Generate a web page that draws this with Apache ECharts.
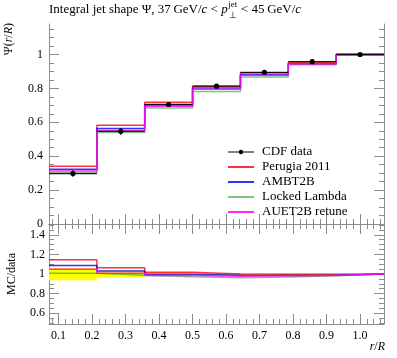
<!DOCTYPE html>
<html><head><meta charset="utf-8">
<script src="https://cdn.jsdelivr.net/npm/echarts@6/dist/echarts.min.js"></script>
<style>html,body{margin:0;padding:0;background:#fff}#c{width:397px;height:358px}</style>
</head><body><div id="c"></div>
<script>
// ---- data ----
const binEdges = [0.0714, 0.2143, 0.3571, 0.5, 0.6429, 0.7857, 0.9286, 1.0714];
const binCenters = [0.1429, 0.2857, 0.4286, 0.5714, 0.7143, 0.8571, 1.0];
const cdfData = [0.298, 0.547, 0.705, 0.813, 0.895, 0.958, 1.0];
const cdfErr = [0.019, 0.020, 0.012, 0.008, 0.006, 0.004, 0.0];
const perugia2011 = [0.341, 0.582, 0.718, 0.812, 0.893, 0.955, 1.0];
const ambt2b = [0.3235, 0.564, 0.704, 0.802, 0.882, 0.945, 1.0];
const lockedLambda = [0.300, 0.540, 0.685, 0.782, 0.868, 0.940, 1.0];
const auet2bRetune = [0.3125, 0.551, 0.694, 0.795, 0.878, 0.944, 1.0];
const xTicks = [0.1, 0.2, 0.3, 0.4, 0.5, 0.6, 0.7, 0.8, 0.9, 1.0];
const xTickLabels = ['0.1', '0.2', '0.3', '0.4', '0.5', '0.6', '0.7', '0.8', '0.9', '1.0'];
const mainYTicks = [0, 0.2, 0.4, 0.6, 0.8, 1];
const mainYTickLabels = ['0', '0.2', '0.4', '0.6', '0.8', '1'];
const ratioYTicks = [0.6, 0.8, 1, 1.2, 1.4];
const ratioYTickLabels = ['0.6', '0.8', '1', '1.2', '1.4'];

function range(a, b, s) { const r = []; for (let v = a; v <= b + 1e-9; v += s) r.push(+v.toFixed(4)); return r; }
const xMinor = range(0.08, 1.06, 0.02);
const mainYMinor = range(0.05, 1.15, 0.05);
const ratioYMinor = range(0.5, 1.5, 0.05);

const FONT = 'Liberation Serif';
const AX = '#8c8c8c';
const X_MIN = binEdges[0], X_MAX = binEdges[binEdges.length - 1];
const MAIN_Y = [0, 1.18], RATIO_Y = [0.49, 1.51];

function fmtMap(vals, labels) { return function (v) { for (let i = 0; i < vals.length; i++) if (Math.abs(vals[i] - v) < 1e-6) return labels[i]; return ''; }; }

function xAx(grid, pos, ticks, len, showLine, labels) {
  return {
    type: 'value', gridIndex: grid, position: pos, min: X_MIN, max: X_MAX,
    axisLine: { show: showLine, lineStyle: { color: AX, width: 1 } },
    axisTick: { show: true, inside: true, length: len, customValues: ticks, lineStyle: { color: AX, width: 1 } },
    axisLabel: labels ? { show: true, customValues: ticks, formatter: fmtMap(xTicks, xTickLabels), margin: 6,
      fontFamily: FONT, fontSize: 12, color: '#000' } : { show: false },
    splitLine: { show: false }
  };
}
function yAx(grid, pos, mm, ticks, len, showLine, lblVals, lblTexts, margin) {
  return {
    type: 'value', gridIndex: grid, position: pos, min: mm[0], max: mm[1],
    axisLine: { show: showLine, lineStyle: { color: AX, width: 1 } },
    axisTick: { show: true, inside: true, length: len, customValues: ticks, lineStyle: { color: AX, width: 1 } },
    axisLabel: lblVals ? { show: true, customValues: lblVals, formatter: fmtMap(lblVals, lblTexts), margin: margin,
      fontFamily: FONT, fontSize: 12, color: '#000' } : { show: false },
    splitLine: { show: false }
  };
}

const xAxis = [
  xAx(0, 'bottom', xTicks, 10, true, false),
  xAx(0, 'bottom', xMinor, 5, false, false),
  xAx(0, 'top', xTicks, 10, true, false),
  xAx(0, 'top', xMinor, 5, false, false),
  xAx(1, 'bottom', xTicks, 10, true, true),
  xAx(1, 'bottom', xMinor, 5, false, false),
  xAx(1, 'top', xTicks, 10, true, false),
  xAx(1, 'top', xMinor, 5, false, false)
];
const yAxis = [
  yAx(0, 'left', MAIN_Y, mainYTicks, 10, true, mainYTicks, mainYTickLabels, 6),
  yAx(0, 'left', MAIN_Y, mainYMinor, 5, false),
  yAx(0, 'right', MAIN_Y, mainYTicks, 10, true),
  yAx(0, 'right', MAIN_Y, mainYMinor, 5, false),
  yAx(1, 'left', RATIO_Y, ratioYTicks, 10, true, ratioYTicks, ratioYTickLabels, 4),
  yAx(1, 'left', RATIO_Y, ratioYMinor, 5, false),
  yAx(1, 'right', RATIO_Y, ratioYTicks, 10, true),
  yAx(1, 'right', RATIO_Y, ratioYMinor, 5, false)
];

const models = [
  { name: 'Perugia 2011', vals: perugia2011, color: '#ff0000', opacity: 0.8 },
  { name: 'AMBT2B', vals: ambt2b, color: '#0000ff', opacity: 0.8 },
  { name: 'Locked Lambda', vals: lockedLambda, color: '#22a022', opacity: 0.6 },
  { name: 'AUET2B retune', vals: auet2bRetune, color: '#ff00ff', opacity: 0.85 }
];

function stepPts(vals) { return binEdges.map((e, i) => [e, vals[Math.min(i, vals.length - 1)]]); }

const series = [];
series.push({
  type: 'custom', name: 'band', xAxisIndex: 4, yAxisIndex: 4, z: 1, silent: true,
  data: cdfData.map((d, i) => [binEdges[i], binEdges[i + 1], 1 - cdfErr[i] / d, 1 + cdfErr[i] / d]),
  encode: { x: [0, 1], y: [2, 3] },
  renderItem: function (params, api) {
    const p0 = api.coord([api.value(0), api.value(3)]);
    const p1 = api.coord([api.value(1), api.value(2)]);
    if (p1[1] - p0[1] < 0.01) return null;
    return { type: 'rect', shape: { x: p0[0], y: p0[1], width: p1[0] - p0[0], height: p1[1] - p0[1] }, style: { fill: '#ffff00' } };
  }
});
models.forEach(m => {
  const ls = { color: m.color, width: 1.5, opacity: m.opacity };
  series.push({ type: 'line', name: m.name, xAxisIndex: 0, yAxisIndex: 0, step: 'end', data: stepPts(m.vals),
    showSymbol: false, symbol: 'none', lineStyle: ls, itemStyle: { color: m.color }, z: 2, animation: false });
  const ratio = m.vals.map((v, i) => v / cdfData[i]);
  series.push({ type: 'line', name: m.name, xAxisIndex: 4, yAxisIndex: 4, step: 'end', data: stepPts(ratio),
    showSymbol: false, symbol: 'none', lineStyle: ls, itemStyle: { color: m.color }, z: 2, animation: false });
});
series.push({
  type: 'custom', name: 'CDF data', xAxisIndex: 0, yAxisIndex: 0, z: 5,
  itemStyle: { color: '#000' },
  data: cdfData.map((d, i) => [binEdges[i], binEdges[i + 1], binCenters[i], d, cdfErr[i]]),
  encode: { x: [0, 1, 2], y: [3] },
  renderItem: function (params, api) {
    const y = api.value(3), e = api.value(4);
    const a = api.coord([api.value(0), y]), b = api.coord([api.value(1), y]);
    const c = api.coord([api.value(2), y]);
    const lo = api.coord([api.value(2), y - e]), hi = api.coord([api.value(2), y + e]);
    return { type: 'group', children: [
      { type: 'line', shape: { x1: a[0], y1: a[1], x2: b[0], y2: b[1] }, style: { stroke: '#000', lineWidth: 1.3, opacity: 0.85 } },
      { type: 'line', shape: { x1: lo[0], y1: lo[1], x2: hi[0], y2: hi[1] }, style: { stroke: '#000', lineWidth: 1.3 } },
      { type: 'circle', shape: { cx: c[0], cy: c[1], r: 2.6 }, style: { fill: '#000' } }
    ] };
  }
});

const chart = echarts.init(document.getElementById('c'), null, { renderer: 'canvas' });

const ctx = document.createElement('canvas').getContext('2d');
function w(t, f) { ctx.font = f; return ctx.measureText(t).width; }
const TF = '13px "' + FONT + '"', TFI = 'italic 13px "' + FONT + '"', TFS = '9px "' + FONT + '"';
const AF = '12px "' + FONT + '"';
const pieces = [
  { t: 'Integral jet shape \u03A8, 37\u2009GeV/', f: TF },
  { t: 'c', f: TFI },
  { t: ' < ', f: TF },
  { t: 'p', f: TFI },
  { sup: 'jet', sub: '\u22A5' },
  { t: ' < 45\u2009GeV/', f: TF },
  { t: 'c', f: TFI }
];
const graphics = [];
let tx = 49; const ty = 10;
pieces.forEach(p => {
  if (p.sup) {
    graphics.push({ type: 'text', x: tx + 0.5, y: ty - 5, style: { text: p.sup, font: TFS, fill: '#000', align: 'left', verticalAlign: 'middle', textAlign: 'left', textVerticalAlign: 'middle' } });
    graphics.push({ type: 'text', x: tx + 1.5, y: ty + 6, style: { text: p.sub, font: TFS, fill: '#000', align: 'left', verticalAlign: 'middle', textAlign: 'left', textVerticalAlign: 'middle' } });
    tx += Math.max(w(p.sup, TFS), w(p.sub, TFS)) + 1;
  } else {
    graphics.push({ type: 'text', x: tx, y: ty, style: { text: p.t, font: p.f, fill: '#000', align: 'left', verticalAlign: 'middle', textAlign: 'left', textVerticalAlign: 'middle' } });
    tx += w(p.t, p.f);
  }
});
const richN = { fontFamily: FONT, fontSize: 12, color: '#000' };
const richI = { fontFamily: FONT, fontSize: 12, fontStyle: 'italic', color: '#000' };
graphics.push({ type: 'text', x: 9, y: 23, rotation: Math.PI / 2,
  style: { text: '{n|\u03A8(}{i|r}{n|/}{i|R}{n|)}', rich: { n: richN, i: richI }, align: 'right', verticalAlign: 'middle', textAlign: 'right', textVerticalAlign: 'middle' } });
graphics.push({ type: 'text', x: 12, y: 274, rotation: Math.PI / 2,
  style: { text: 'MC/data', font: AF, fill: '#000', align: 'center', verticalAlign: 'middle', textAlign: 'center', textVerticalAlign: 'middle' } });
graphics.push({ type: 'text', x: 385, y: 347,
  style: { text: '{i|r}{n|/}{i|R}', rich: { n: richN, i: richI }, align: 'right', verticalAlign: 'middle', textAlign: 'right', textVerticalAlign: 'middle' } });

const noSym = { opacity: 0 };
chart.setOption({
  animation: false,
  backgroundColor: '#fff',
  grid: [
    { left: 49, right: 13, top: 24, height: 200 },
    { left: 49, right: 13, top: 224, height: 100 }
  ],
  xAxis: xAxis,
  yAxis: yAxis,
  legend: {
    orient: 'vertical', left: 227, top: 145, padding: 0, itemWidth: 26, itemHeight: 10, itemGap: 1,
    textStyle: { fontFamily: FONT, fontSize: 13, color: '#000', padding: [0, 0, 0, 3], lineHeight: 14 },
    selectedMode: false,
    data: [
      { name: 'CDF data', icon: 'path://M0,0Z M26,10Z M0,4.4H26V5.6H0Z M15.2,5A2.2,2.2 0 1 1 10.8,5A2.2,2.2 0 1 1 15.2,5Z', itemStyle: { color: '#000' } },
      { name: 'Perugia 2011', itemStyle: noSym },
      { name: 'AMBT2B', itemStyle: noSym },
      { name: 'Locked Lambda', itemStyle: noSym },
      { name: 'AUET2B retune', itemStyle: noSym }
    ]
  },
  graphic: graphics,
  series: series
});
</script>
</body></html>
